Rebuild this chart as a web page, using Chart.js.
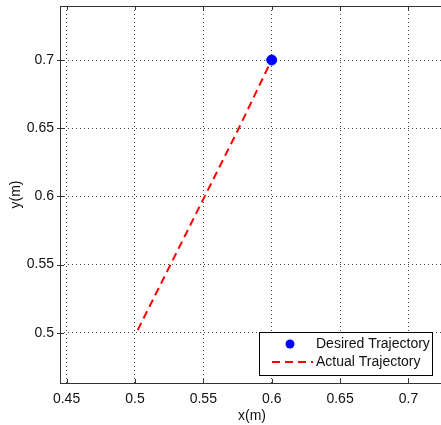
<!DOCTYPE html>
<html>
<head>
<meta charset="utf-8">
<script src="https://cdn.jsdelivr.net/npm/chart.js@4"></script>
<style>
  html, body { margin: 0; padding: 0; background: #fff; overflow: hidden; }
  #wrap { position: relative; width: 460px; height: 425px; }
</style>
</head>
<body>
<div id="wrap"><canvas id="myChart" width="460" height="425"></canvas></div>
<script>
const ctx = document.getElementById('myChart');

// desired end point and the actual path
const desiredX = [0.6]
const desiredY = [0.7]
const actualX = [0.502, 0.525, 0.55, 0.575, 0.598]
const actualY = [0.502, 0.548, 0.598, 0.648, 0.696]

const xTicks = [0.45, 0.5, 0.55, 0.6, 0.65, 0.7]
const yTicks = [0.5, 0.55, 0.6, 0.65, 0.7]

const FONT = "'Liberation Sans', Arial, Helvetica, sans-serif"
const AXIS_COLOR = '#333'

const toPoints = (xs, ys) => xs.map((x, i) => ({ x: x, y: ys[i] }))

// box, inward tick marks and the legend box in the lower right
const matlabAxes = {
    id: 'matlabAxes',
    afterDraw(chart) {
        const { ctx: c, chartArea: a, scales } = chart
        c.save()
        c.strokeStyle = AXIS_COLOR
        c.lineWidth = 1
        c.strokeRect(a.left + 0.5, a.top + 0.5, a.right - a.left, a.bottom - a.top)

        c.beginPath()
        xTicks.forEach(v => {
            const px = Math.round(scales.x.getPixelForValue(v)) + 0.5
            c.moveTo(px, a.bottom); c.lineTo(px, a.bottom - 4)
            c.moveTo(px, a.top); c.lineTo(px, a.top + 4)
        })
        yTicks.forEach(v => {
            const py = Math.round(scales.y.getPixelForValue(v)) + 0.5
            c.moveTo(a.left, py); c.lineTo(a.left + 4, py)
            c.moveTo(a.left, py); c.lineTo(a.left - 3, py)
        })
        c.stroke()

        // legend
        const lx = 259, ly = 332, lw = 173, lh = 43
        c.fillStyle = '#fff'
        c.fillRect(lx, ly, lw, lh)
        c.strokeStyle = '#000'
        c.strokeRect(lx + 0.5, ly + 0.5, lw, lh)

        c.fillStyle = '#0000ff'
        c.beginPath()
        c.arc(290, 344, 4.5, 0, Math.PI * 2)
        c.fill()

        c.strokeStyle = '#ff0000'
        c.lineWidth = 2
        c.setLineDash([8, 5])
        c.beginPath()
        c.moveTo(272, 362); c.lineTo(313, 362)
        c.stroke()
        c.setLineDash([])

        c.fillStyle = '#111'
        c.font = '14px ' + FONT
        c.textBaseline = 'middle'
        c.fillText(chart.data.datasets[0].label, 316, 344)
        c.fillText(chart.data.datasets[1].label, 316, 362)
        c.restore()
    }
}

const gridStyle = {
    color: '#444',
    lineWidth: 1,
    drawTicks: false
}

let chart = new Chart(ctx, {
    type: 'scatter',
    data: {
        datasets: [
            {
                label: 'Desired Trajectory',
                data: toPoints(desiredX, desiredY),
                backgroundColor: '#0000ff',
                borderColor: '#0000ff',
                pointRadius: 5,
                showLine: false,
                order: 0
            },
            {
                label: 'Actual Trajectory',
                data: toPoints(actualX, actualY),
                borderColor: '#ff0000',
                borderWidth: 2,
                borderDash: [8, 5],
                pointRadius: 0,
                showLine: true,
                order: 1
            }
        ]
    },
    options: {
        responsive: false,
        animation: false,
        layout: { padding: { top: 6, right: 16, left: 0, bottom: 0 } },
        plugins: {
            legend: { display: false },
            tooltip: { enabled: false }
        },
        scales: {
            x: {
                type: 'linear',
                min: 0.4452,
                max: 0.726,
                afterBuildTicks: s => { s.ticks = xTicks.map(v => ({ value: v })) },
                afterFit: s => { s.height = 42; s.paddingLeft = 0; s.paddingRight = 0 },
                grid: gridStyle,
                border: { display: false, dash: [1, 3] },
                ticks: {
                    color: '#111',
                    padding: 8,
                    font: { family: FONT, size: 14 },
                    callback: v => String(v)
                },
                title: {
                    display: true,
                    text: 'x(m)',
                    color: '#111',
                    padding: { top: 0, bottom: 0 },
                    font: { family: FONT, size: 14 }
                }
            },
            y: {
                type: 'linear',
                min: 0.4632,
                max: 0.7396,
                afterBuildTicks: s => { s.ticks = yTicks.map(v => ({ value: v })) },
                afterFit: s => { s.width = 60; s.paddingTop = 0; s.paddingBottom = 0 },
                grid: gridStyle,
                border: { display: false, dash: [1, 3] },
                ticks: {
                    color: '#111',
                    padding: 6,
                    font: { family: FONT, size: 14 },
                    callback: v => String(v)
                },
                title: {
                    display: true,
                    text: 'y(m)',
                    color: '#111',
                    padding: { top: 8, bottom: 0 },
                    font: { family: FONT, size: 14 }
                }
            }
        }
    },
    plugins: [matlabAxes]
});
</script>
</body>
</html>
